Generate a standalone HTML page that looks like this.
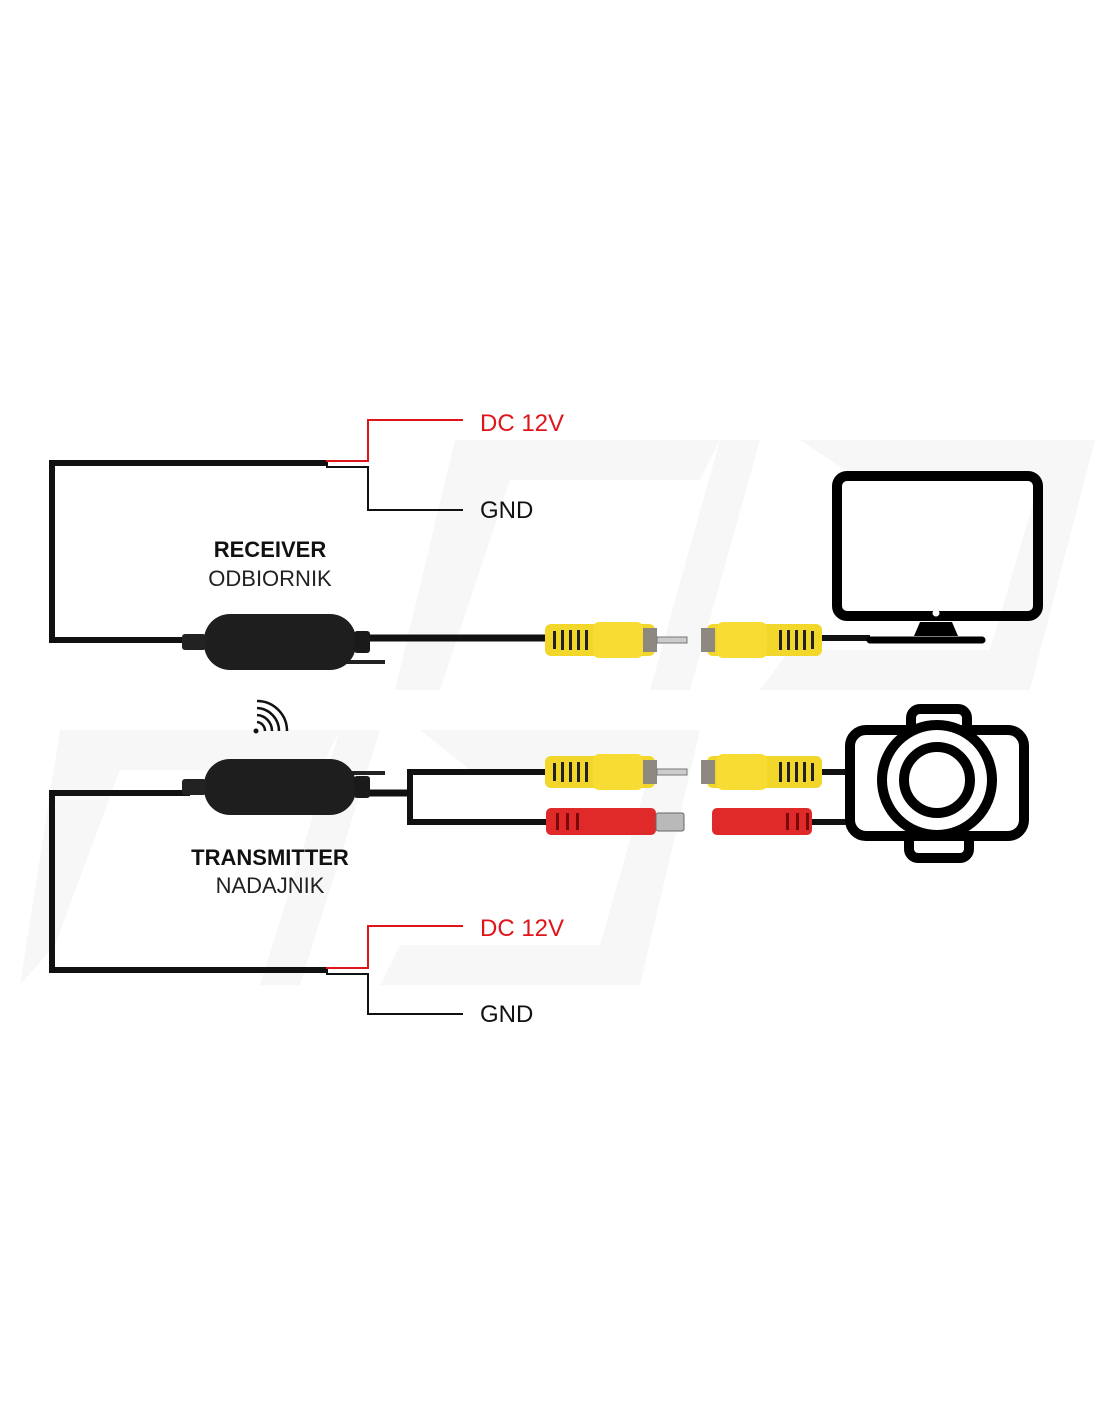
<!DOCTYPE html>
<html><head><meta charset="utf-8"><style>
html,body{margin:0;padding:0;background:#fff;}
svg{display:block}
text{font-family:"Liberation Sans",sans-serif}
</style></head><body>
<svg width="1100" height="1422" viewBox="0 0 1100 1422" xmlns="http://www.w3.org/2000/svg">
<defs>
<g id="yplug">
  <rect x="0" y="-16" width="110" height="32" rx="6" fill="#f2d62a"/>
  <rect x="48" y="-18" width="50" height="36" rx="6" fill="#f7dc33"/>
  <g fill="#222"><rect x="8" y="-9" width="3" height="18"/><rect x="16" y="-10" width="3" height="20"/><rect x="24" y="-10" width="3" height="20"/><rect x="32" y="-10" width="3" height="20"/><rect x="40" y="-10" width="3" height="20"/></g>
  <rect x="98" y="-12" width="14" height="24" fill="#8d8880"/>
  <rect x="112" y="-3" width="30" height="6" fill="#ccc" stroke="#777" stroke-width="1"/>
</g>
<g id="yfem">
  <rect x="0" y="-16" width="115" height="32" rx="6" fill="#f2d62a"/>
  <rect x="10" y="-18" width="50" height="36" rx="6" fill="#f7dc33"/>
  <rect x="-6" y="-12" width="14" height="24" fill="#8d8880"/>
  <g fill="#222"><rect x="72" y="-10" width="3" height="20"/><rect x="80" y="-10" width="3" height="20"/><rect x="88" y="-10" width="3" height="20"/><rect x="96" y="-10" width="3" height="20"/><rect x="104" y="-9" width="3" height="18"/></g>
</g>
<g id="box">
  <rect x="-76" y="-28" width="152" height="56" rx="26" fill="#1e1e1e"/>
  <rect x="-98" y="-8" width="24" height="16" rx="3" fill="#222"/>
  <rect x="74" y="-11" width="16" height="22" rx="3" fill="#1a1a1a"/>
</g>
</defs>
<!-- watermark -->
<g fill="#f7f7f7">
  <polygon points="455,440 720,440 700,480 510,480 440,690 395,690"/>
  <polygon points="720,440 760,440 690,690 650,690"/>
  <polygon points="800,440 1095,440 1030,690 760,690 790,650 990,650 1040,480 860,480"/>
  <polygon points="60,730 340,730 320,770 120,770 55,945 20,985"/>
  <polygon points="340,730 380,730 300,985 260,985"/>
  <polygon points="420,730 700,730 640,985 380,985 400,945 600,945 650,770 470,770"/>
</g>
<g fill="none" stroke-linecap="butt">
  <polyline points="328,463 52,463 52,640 190,640" stroke="#111" stroke-width="6"/>
  <polyline points="326,461 368,461 368,420 463,420" stroke="#e0141b" stroke-width="2"/>
  <polyline points="326,467 368,467 368,510 463,510" stroke="#111" stroke-width="2"/>
  <line x1="350" y1="638" x2="548" y2="638" stroke="#111" stroke-width="7"/>
  <line x1="335" y1="662" x2="385" y2="662" stroke="#222" stroke-width="4"/>
  <polyline points="328,970 52,970 52,793 190,793" stroke="#111" stroke-width="6"/>
  <polyline points="326,968 368,968 368,926 463,926" stroke="#e0141b" stroke-width="2"/>
  <polyline points="326,974 368,974 368,1014 463,1014" stroke="#111" stroke-width="2"/>
  <line x1="350" y1="793" x2="410" y2="793" stroke="#111" stroke-width="7"/>
  <polyline points="548,772 410,772 410,822 548,822" stroke="#111" stroke-width="6"/>
  <line x1="335" y1="773" x2="385" y2="773" stroke="#222" stroke-width="4"/>
  <line x1="815" y1="638" x2="870" y2="638" stroke="#111" stroke-width="6"/>
  <line x1="815" y1="772" x2="850" y2="772" stroke="#111" stroke-width="6"/>
  <line x1="810" y1="822" x2="850" y2="822" stroke="#111" stroke-width="6"/>
</g>
<use href="#box" x="280" y="642"/>
<use href="#box" x="280" y="787"/>
<use href="#yplug" x="545" y="640"/>
<use href="#yplug" x="545" y="772"/>
<use href="#yfem" x="707" y="640"/>
<use href="#yfem" x="707" y="772"/>
<rect x="546" y="808" width="110" height="27" rx="5" fill="#e02a2a"/>
<g fill="#7a0a0a"><rect x="556" y="813" width="3" height="17"/><rect x="566" y="813" width="3" height="17"/><rect x="576" y="813" width="3" height="17"/></g>
<rect x="656" y="813" width="28" height="18" rx="2" fill="#b9b9b9" stroke="#666"/>
<rect x="712" y="808" width="100" height="27" rx="5" fill="#e02a2a"/>
<g fill="#7a0a0a"><rect x="786" y="813" width="3" height="17"/><rect x="796" y="813" width="3" height="17"/><rect x="806" y="813" width="3" height="17"/></g>
<rect x="837" y="476" width="201" height="140" rx="10" fill="none" stroke="#000" stroke-width="10"/>
<circle cx="936" cy="613" r="3.5" fill="#fff"/>
<polygon points="920,622 952,622 958,636 914,636" fill="#000"/>
<line x1="870" y1="640" x2="982" y2="640" stroke="#000" stroke-width="7" stroke-linecap="round"/>
<rect x="911" y="709" width="56" height="30" rx="9" fill="none" stroke="#000" stroke-width="10"/>
<rect x="909" y="828" width="60" height="30" rx="9" fill="none" stroke="#000" stroke-width="10"/>
<rect x="850" y="730" width="174" height="106" rx="16" fill="#fff" stroke="#000" stroke-width="10"/>
<circle cx="937" cy="780" r="55" fill="#fff" stroke="#000" stroke-width="10"/>
<circle cx="937" cy="780" r="33" fill="#fff" stroke="#000" stroke-width="10"/>
<g fill="none" stroke="#111" stroke-width="2.5">
  <circle cx="256" cy="731" r="2.5" fill="#111" stroke="none"/>
  <path d="M257,722 A9,9 0 0 1 265,731"/>
  <path d="M257,715 A16,16 0 0 1 272,731"/>
  <path d="M257,708 A23,23 0 0 1 279,731"/>
  <path d="M257,701 A30,30 0 0 1 287,731"/>
</g>
<text x="480" y="431" font-size="24" fill="#e0141b">DC 12V</text>
<text x="480" y="518" font-size="24" fill="#111">GND</text>
<text x="480" y="936" font-size="24" fill="#e0141b">DC 12V</text>
<text x="480" y="1022" font-size="24" fill="#111">GND</text>
<text x="270" y="557" font-size="22" font-weight="bold" text-anchor="middle" fill="#111">RECEIVER</text>
<text x="270" y="586" font-size="22" text-anchor="middle" fill="#222">ODBIORNIK</text>
<text x="270" y="865" font-size="22" font-weight="bold" text-anchor="middle" fill="#111">TRANSMITTER</text>
<text x="270" y="893" font-size="22" text-anchor="middle" fill="#222">NADAJNIK</text>
</svg>
</body></html>
